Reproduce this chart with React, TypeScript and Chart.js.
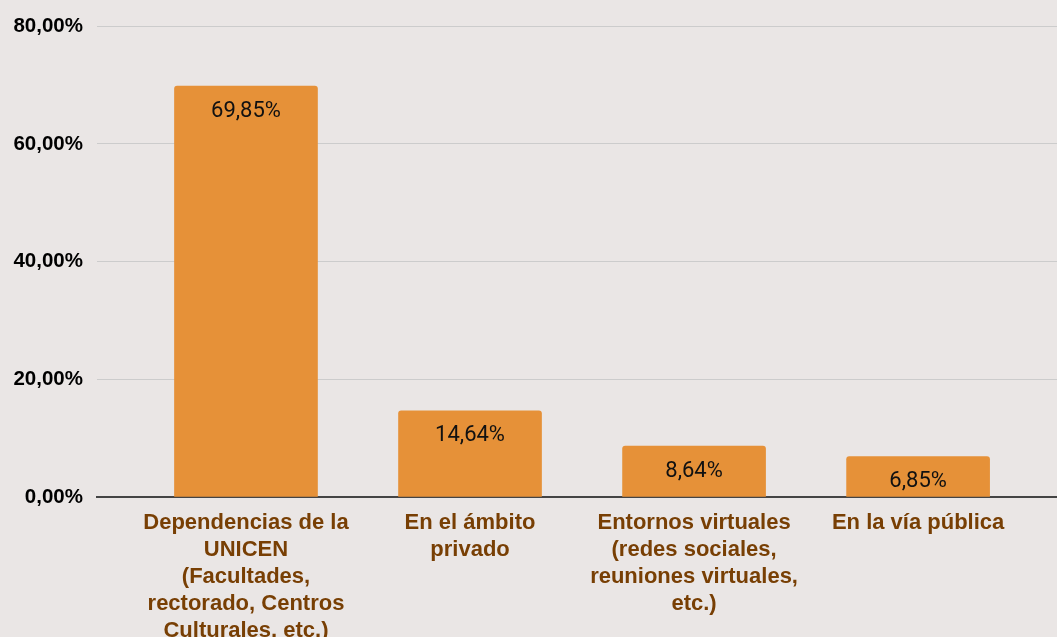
import React, { useEffect, useRef } from "react";
import { Chart, registerables } from "chart.js";

Chart.register(...registerables);

const categories: string[][] = [
  ["Dependencias de la", "UNICEN", "(Facultades,", "rectorado, Centros", "Culturales, etc.)"],
  ["En el ámbito", "privado"],
  ["Entornos virtuales", "(redes sociales,", "reuniones virtuales,", "etc.)"],
  ["En la vía pública"],
];
const values: number[] = [69.85, 14.64, 8.64, 6.85];
const valueLabels: string[] = ["69,85%", "14,64%", "8,64%", "6,85%"];
const yTicks: number[] = [0, 20, 40, 60, 80];

const fmt = (v: number) => v.toFixed(2).replace(".", ",") + "%";

const valueLabelPlugin = {
  id: "valueLabels",
  afterDatasetsDraw(chart: any) {
    const ctx = chart.ctx;
    const meta = chart.getDatasetMeta(0);
    ctx.save();
    ctx.font = "22px Roboto";
    ctx.fillStyle = "#111";
    ctx.textAlign = "center";
    ctx.textBaseline = "middle";
    meta.data.forEach((el: any, i: number) => {
      ctx.fillText(valueLabels[i], el.x, el.y + 25);
    });
    ctx.restore();
  },
};

export default function App() {
  const ref = useRef<HTMLCanvasElement>(null);
  useEffect(() => {
    if (!ref.current) return;
    const chart = new Chart(ref.current, {
      type: "bar",
      data: {
        datasets: [
          {
            data: values.map((v, i) => ({ x: i, y: v })),
            backgroundColor: "#e69138",
            borderRadius: 3,
            borderSkipped: "bottom",
            barThickness: 143,
          },
        ],
      },
      options: {
        responsive: false,
        animation: false,
        layout: { padding: { top: 19, right: 0, bottom: 0, left: 0 } },
        plugins: { legend: { display: false }, tooltip: { enabled: false } },
        scales: {
          x: {
            type: "linear",
            offset: false,
            min: -0.665,
            max: 3.62,
            grid: { display: false, drawTicks: false, offset: false },
            border: { display: true, color: "#444", width: 2 },
            afterBuildTicks: (scale: any) => {
              scale.ticks = categories.map((_, i) => ({ value: i }));
            },
            afterFit: (scale: any) => {
              scale.height = 153;
            },
            ticks: {
              autoSkip: false,
              maxRotation: 0,
              minRotation: 0,
              padding: 13,
              color: "#783f04",
              font: { family: "Liberation Sans", size: 22, weight: "bold", lineHeight: 1.22 },
              callback: (v: any) => categories[v] as any,
            },
          },
          y: {
            min: 0,
            max: 80,
            afterBuildTicks: (scale: any) => {
              scale.ticks = yTicks.map((v) => ({ value: v }));
            },
            afterFit: (scale: any) => {
              scale.width = 97;
            },
            grid: { color: "#cccccc", lineWidth: 1, drawTicks: false },
            border: { display: false },
            ticks: {
              padding: 14,
              color: "#000",
              font: { family: "Liberation Sans", size: 20.5, weight: "bold" },
              callback: (v: any) => fmt(Number(v)),
            },
          },
        },
      },
      plugins: [valueLabelPlugin],
    });
    return () => chart.destroy();
  }, []);
  return (
    <div
      style={{
        position: "fixed",
        left: 0,
        top: 0,
        width: 1057,
        height: 637,
        overflow: "hidden",
        background: "#eae6e5",
      }}
    >
      <canvas ref={ref} width={1057} height={650} style={{ display: "block" }} />
    </div>
  );
}
